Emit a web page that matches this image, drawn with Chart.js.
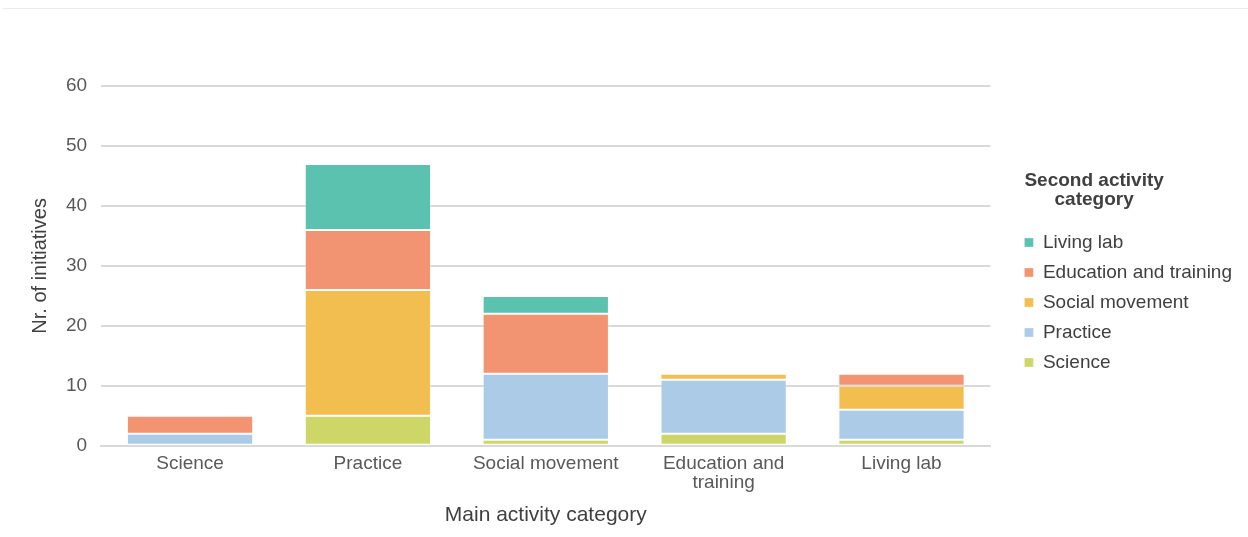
<!doctype html>
<html lang="en">
  <head>
    <meta charset="utf-8">
    <title>Initiatives by activity category</title>
    <script src="https://cdn.jsdelivr.net/npm/chart.js"></script>
    <style>
      html, body { margin: 0; padding: 0; background: #fff; }
      .topline { position: absolute; left: 3px; right: 0; top: 8px; border-top: 1px solid #ececec; }
      .wrap { position: relative; width: 1248px; height: 537px; }
    </style>
  </head>
  <body>
  <div class="wrap">
    <div class="topline"></div>
    <canvas id="chart" width="1248" height="537"></canvas>
  </div>

  <script>
    const categories = ['Science', 'Practice', 'Social movement', ['Education and', 'training'], 'Living lab'];

    const science        = [0, 5, 1, 2, 1];
    const practice       = [2, 0, 11, 9, 5];
    const socialMovement = [0, 21, 0, 1, 4];
    const education      = [3, 10, 10, 0, 2];
    const livingLab      = [0, 11, 3, 0, 0];

    const yTicks = [0, 10, 20, 30, 40, 50, 60];

    const seriesNames = ['Science', 'Practice', 'Social movement', 'Education and training', 'Living lab'];
    const colours = ['#cdd767', '#abcbe7', '#f3be50', '#f29372', '#5bc2b0'];
    const series = [science, practice, socialMovement, education, livingLab];
    const legendTitle = ['Second activity', 'category'];

    const font = '"Liberation Sans", Arial, sans-serif';
    const textColour = '#404040';

    // the layout caps side boxes at a fraction of the width; give the legend room for its longest label
    const legendWidthPlugin = {
      id: 'legendWidth',
      beforeLayout(chart) {
        const lg = chart.legend;
        if (!lg || lg._wide) return;
        const update = lg.update;
        lg.update = function (maxWidth, maxHeight, margins) {
          return update.call(this, Math.max(maxWidth, 260), maxHeight, margins);
        };
        lg._wide = true;
      }
    };

    // legend title: first line starts at the boxes, second line centred under it
    const legendTitlePlugin = {
      id: 'legendTitle',
      afterDraw(chart) {
        const legend = chart.legend;
        if (!legend || !legend.legendHitBoxes.length) return;
        const box = legend.legendHitBoxes[0];
        const c = chart.ctx;
        c.save();
        c.font = 'bold 19px ' + font;
        c.fillStyle = textColour;
        c.textBaseline = 'middle';
        const x = box.left;
        const y0 = box.top + box.height / 2;
        const w1 = c.measureText(legendTitle[0]).width;
        c.textAlign = 'left';
        c.fillText(legendTitle[0], x, y0 - 62);
        c.textAlign = 'center';
        c.fillText(legendTitle[1], x + w1 / 2, y0 - 43);
        c.restore();
      }
    };

    const ctx = document.getElementById('chart').getContext('2d');
    new Chart(ctx, {
      type: 'bar',
      data: {
        labels: categories,
        datasets: series.map((values, i) => ({
          label: seriesNames[i],
          data: values,
          backgroundColor: colours[i],
          borderColor: 'rgba(255,255,255,0.3)',
          borderWidth: 1,
          borderSkipped: false
        }))
      },
      options: {
        responsive: false,
        animation: false,
        layout: { padding: { top: 86, right: 6, left: 28, bottom: 9 } },
        datasets: { bar: { categoryPercentage: 1, barPercentage: 0.71 } },
        scales: {
          x: {
            stacked: true,
            grid: { display: false, drawTicks: false },
            border: { color: '#d9d9d9', width: 2 },
            ticks: { color: '#595959', font: { family: font, size: 19, lineHeight: 1 }, padding: 8, maxRotation: 0 },
            title: {
              display: true,
              text: 'Main activity category',
              color: textColour,
              font: { family: font, size: 21 },
              padding: { top: 3, bottom: 0 }
            }
          },
          y: {
            stacked: true,
            min: 0,
            max: 60,
            afterBuildTicks: axis => { axis.ticks = yTicks.map(v => ({ value: v })); },
            grid: { color: '#d9d9d9', lineWidth: 2, drawTicks: false },
            border: { display: false },
            ticks: { color: '#595959', font: { family: font, size: 19 }, padding: 14 },
            title: {
              display: true,
              text: 'Nr. of initiatives',
              color: textColour,
              font: { family: font, size: 20 },
              padding: 0
            }
          },
          gap: {
            position: 'right',
            display: true,
            grid: { display: false },
            border: { display: false },
            ticks: { display: false },
            afterFit: s => { s.width = 23; }
          }
        },
        plugins: {
          tooltip: { enabled: false },
          legend: {
            position: 'right',
            align: 'start',
            reverse: true,
            title: {
              display: true,
              text: legendTitle,
              color: 'rgba(0,0,0,0)',
              font: { family: font, size: 19, weight: 'bold', lineHeight: 1 },
              padding: { top: 100, bottom: 17 }
            },
            labels: {
              boxWidth: 9,
              boxHeight: 9,
              padding: 11,
              color: textColour,
              font: { family: font, size: 19 }
            }
          }
        }
      },
      plugins: [legendWidthPlugin, legendTitlePlugin]
    });
  </script>
  </body>
</html>
